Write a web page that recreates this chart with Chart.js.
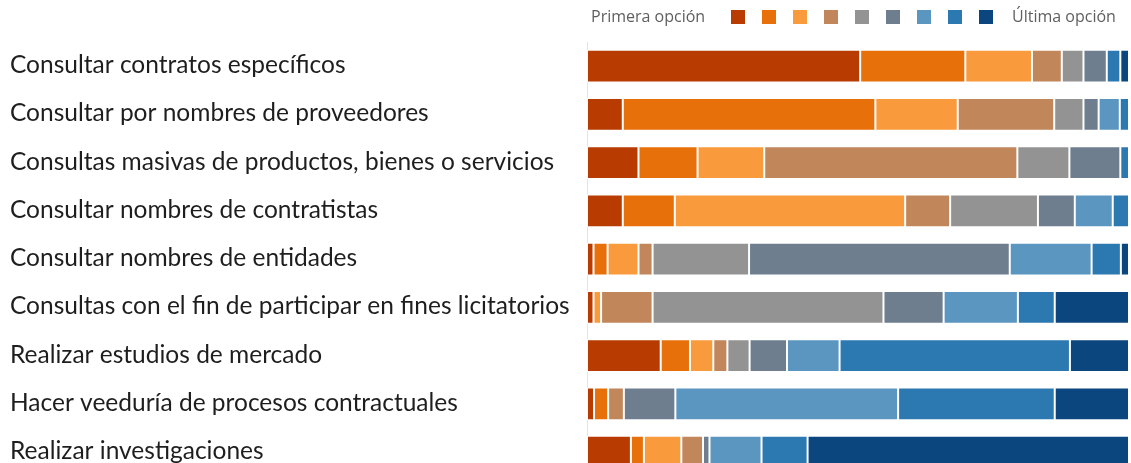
<!DOCTYPE html>
<html>
<head>
<meta charset="UTF-8">
<title>Uso de consultas</title>
<script src="https://cdn.jsdelivr.net/npm/chart.js"></script>
<style>
    body { margin: 0; background: #fff; overflow: hidden; }
    #myChart { position: absolute; left: 0; top: 0; }
    #legend { position: absolute; left: 0; top: 0; width: 1131px; height: 36px; font-family: "Open Sans", sans-serif; font-size: 16px; color: #5f5f5f; }
    #legend span { position: absolute; top: 5px; white-space: nowrap; }
    #legend i { position: absolute; top: 10px; width: 14px; height: 14px; }
</style>
</head>
<body>
<canvas id="myChart" width="1131" height="494"></canvas>
<div id="legend"></div>

<script>
// categories (top to bottom)
const Categories = [
    'Consultar contratos específicos',
    'Consultar por nombres de proveedores',
    'Consultas masivas de productos, bienes o servicios',
    'Consultar nombres de contratistas',
    'Consultar nombres de entidades',
    'Consultas con el fin de participar en fines licitatorios',
    'Realizar estudios de mercado',
    'Hacer veeduría de procesos contractuales',
    'Realizar investigaciones'
];

// share (%) of each ranking position, one array per position
const Opcion1 = [50.4,  6.6,  9.5,  6.6,  1.2,  1.2, 13.6,  1.3,  8.1];
const Opcion2 = [19.4, 46.6, 10.9,  9.6,  2.6,  0.0,  5.4,  2.6,  2.4];
const Opcion3 = [12.3, 15.2, 12.3, 42.5,  5.7,  1.4,  4.3,  0.0,  6.9];
const Opcion4 = [ 5.5, 17.8, 46.7,  8.3,  2.6,  9.5,  2.6,  2.9,  4.0];
const Opcion5 = [ 4.0,  5.4,  9.6, 16.2, 17.8, 42.6,  4.1,  0.0,  0.0];
const Opcion6 = [ 4.3,  2.8,  9.4,  6.8, 48.1, 11.1,  6.9,  9.5,  1.2];
const Opcion7 = [ 0.0,  3.9,  0.0,  7.0, 15.1, 13.7,  9.7, 41.1,  9.6];
const Opcion8 = [ 2.5,  1.7,  1.6,  3.0,  5.4,  6.8, 42.5, 28.9,  8.5];
const Opcion9 = [ 1.6,  0.0,  0.0,  0.0,  1.5, 13.7, 10.9, 13.7, 59.3];

const SeriesValues = [Opcion1, Opcion2, Opcion3, Opcion4, Opcion5, Opcion6, Opcion7, Opcion8, Opcion9];
const Colors = ['#b83b02', '#e8700a', '#f99a3d', '#c1865a', '#939393', '#6f7e8f', '#5b96c0', '#2c78b0', '#0b467e'];
const LegendFirst = 'Primera opción';
const LegendLast = 'Última opción';

// legend row on top
const legend = document.getElementById('legend');
let html = '<span style="left:591px">' + LegendFirst + '</span>';
for (let i = 0; i < Colors.length; i++) {
    html += '<i style="left:' + (731 + i * 31) + 'px;background:' + Colors[i] + '"></i>';
}
html += '<span style="left:1012px">' + LegendLast + '</span>';
legend.innerHTML = html;

const datasets = SeriesValues.map(function (vals, i) {
    return {
        label: 'Opción ' + (i + 1),
        data: vals,
        backgroundColor: Colors[i],
        borderColor: 'rgba(255,255,255,0.85)',
        borderWidth: 1,
        borderSkipped: false,
        barPercentage: 0.68,
        categoryPercentage: 1
    };
});

new Chart(document.getElementById('myChart'), {
    type: 'bar',
    data: { labels: Categories, datasets: datasets },
    options: {
        indexAxis: 'y',
        responsive: false,
        animation: false,
        layout: { padding: { left: 10, top: 42, right: 2, bottom: 0 } },
        plugins: { legend: { display: false }, tooltip: { enabled: false } },
        scales: {
            x: { stacked: true, min: 0, max: 100, display: false },
            y: {
                stacked: true,
                grid: { display: false },
                border: { display: true, color: '#e4e4e4' },
                ticks: {
                    crossAlign: 'far',
                    labelOffset: -1,
                    color: '#1e1e1e',
                    font: { family: 'Lato', size: 24.5 }
                },
                afterFit: function (scale) { scale.width = 577; }
            }
        }
    }
});
</script>
</body>
</html>
